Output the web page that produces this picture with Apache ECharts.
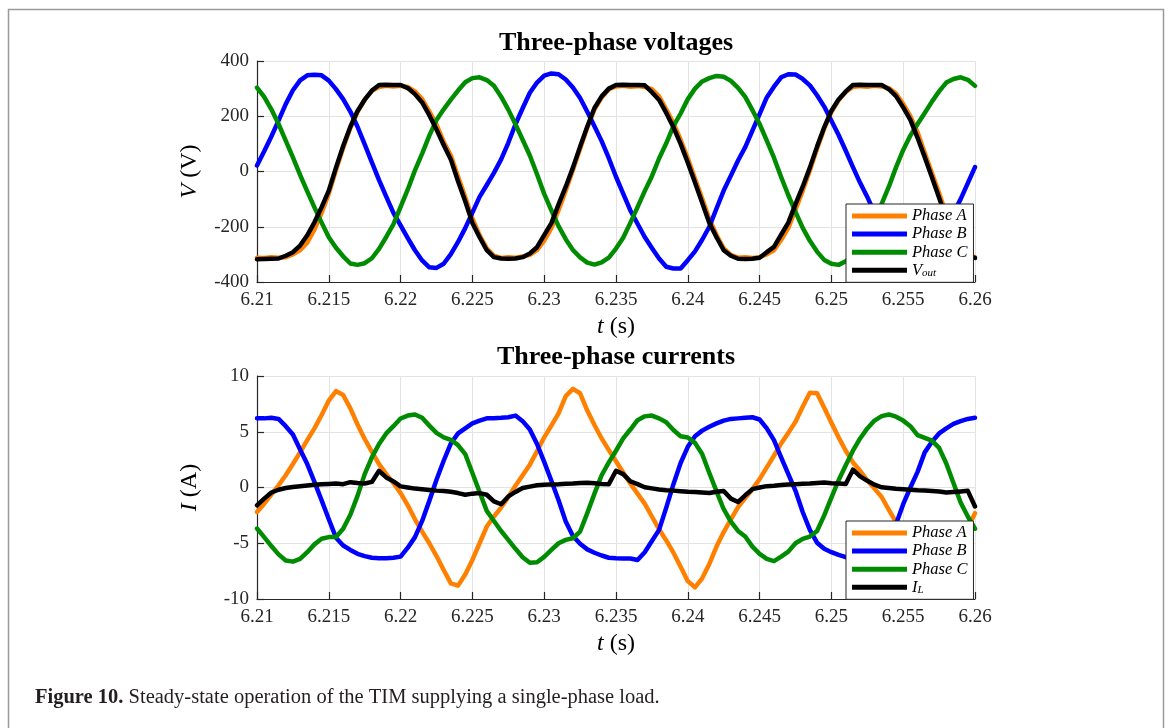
<!DOCTYPE html>
<html>
<head>
<meta charset="utf-8">
<script src="https://cdn.jsdelivr.net/npm/echarts@6/dist/echarts.min.js"></script>
<style>
  html, body { margin: 0; padding: 0; background: #fff; }
  #chart { width: 1170px; height: 728px; }
</style>
</head>
<body>
<div id="chart"></div>
<script>
// Sampling of the simulation window: 6.21 s to 6.26 s, one sample every 0.5 ms
const T_START = 6.21;
const T_STEP = 0.0005;
const N_SAMPLES = 101;

// x-axis ticks
const timeTicks = { min: 6.21, max: 6.26, interval: 0.005 };
const voltTicks = { min: -400, max: 400, interval: 200 };
const ampTicks = { min: -10, max: 10, interval: 5 };

// Phase voltages (V)
const phaseA_V = [-312,-313,-310,-312,-310,-300,-285,-258,-210,-150,
  -80,5,85,158,215,260,292,306,310,308,
  310,306,290,262,218,170,108,58,-18,-92,
  -170,-230,-278,-305,-313,-310,-312,-308,-302,-285,
  -250,-205,-140,-70,5,82,158,225,268,298,
  308,310,307,309,306,298,272,225,175,115,
  48,-25,-98,-172,-230,-278,-302,-312,-310,-313,
  -310,-300,-285,-248,-205,-138,-70,4,82,155,
  215,258,288,306,309,307,310,308,302,282,
  245,200,142,68,-5,-78,-155,-225,-275,-302,
  -310];

const phaseB_V = [22,73,127,184,244,294,330,348,350,348,
  329,298,262,217,162,98,33,-31,-91,-150,
  -195,-241,-285,-322,-347,-349,-334,-299,-255,-205,
  -149,-92,-49,-5,44,104,171,229,285,322,
  347,355,352,333,304,266,216,164,110,48,
  -19,-80,-141,-189,-237,-277,-315,-345,-351,-351,
  -321,-289,-247,-200,-134,-69,-15,40,88,148,
  208,268,307,341,352,351,335,312,276,235,
  184,132,75,16,-41,-92,-150,-205,-255,-300,
  -335,-350,-348,-325,-292,-250,-200,-150,-100,-42,
  16];

const phaseC_V = [304,270,225,172,112,51,-12,-72,-130,-185,
  -238,-276,-307,-333,-338,-332,-314,-280,-237,-191,
  -128,-65,4,65,130,186,225,260,293,323,
  338,341,331,310,271,224,171,115,58,-10,
  -81,-141,-198,-245,-284,-311,-330,-337,-329,-312,
  -279,-240,-186,-129,-71,-17,47,102,164,210,
  262,300,326,338,346,343,328,303,270,222,
  172,112,50,-20,-86,-146,-204,-251,-290,-320,
  -334,-338,-325,-300,-275,-235,-180,-117,-55,15,
  78,130,172,212,253,290,322,335,341,332,
  310];

const vOut = [-318,-317,-316,-315,-305,-292,-268,-231,-184,-129,
  -69,14,92,162,219,260,293,313,314,313,
  313,302,280,250,204,152,96,43,-35,-108,
  -186,-238,-285,-310,-315,-316,-315,-310,-297,-274,
  -230,-187,-119,-55,14,90,163,230,272,300,
  313,314,313,313,312,287,259,212,160,100,
  32,-40,-113,-186,-238,-285,-305,-316,-317,-316,
  -312,-292,-273,-229,-185,-118,-55,14,90,160,
  220,261,290,313,314,313,313,313,298,273,
  232,187,122,52,-21,-95,-170,-235,-280,-305,
  -313];

// Phase currents and load current (A)
const phaseA_I = [-2.2,-1.45,-0.64,0.2,1.1,2.1,3.15,4.25,5.3,6.5,
  7.8,8.65,8.3,7.1,5.65,4.35,3.2,2.1,1.2,0.4,
  -0.5,-1.6,-2.85,-3.95,-5.0,-6.15,-7.4,-8.6,-8.8,-7.8,
  -6.5,-5.0,-3.5,-2.6,-1.8,-0.85,0.15,1.1,2.05,3.25,
  4.5,5.55,6.65,8.2,8.85,8.45,6.9,5.6,4.4,3.35,
  2.35,1.35,0.35,-0.55,-1.45,-2.6,-3.75,-4.75,-5.85,-7.1,
  -8.4,-8.95,-8.15,-6.85,-5.3,-4.0,-2.85,-1.75,-0.95,-0.15,
  0.75,1.8,2.85,3.95,4.9,5.9,7.25,8.5,8.45,7.15,
  5.8,4.5,3.3,2.25,1.5,0.65,-0.1,-0.85,-2.0,-3.1,
  -4.4,-5.6,-6.8,-7.9,-8.8,-8.8,-7.6,-6.3,-5.0,-3.6,
  -2.3];

const phaseB_I = [6.2,6.2,6.25,6.15,5.5,4.75,3.4,2.1,0.5,-1.15,
  -2.85,-4.5,-5.2,-5.6,-5.95,-6.15,-6.3,-6.35,-6.35,-6.3,
  -6.2,-5.4,-4.45,-3.0,-1.2,0.7,2.4,3.95,4.85,5.3,
  5.75,6.0,6.2,6.22,6.25,6.3,6.45,5.95,5.2,3.9,
  2.3,0.6,-1.15,-3.05,-4.35,-5.05,-5.55,-5.85,-6.1,-6.3,
  -6.35,-6.37,-6.37,-6.5,-5.8,-4.8,-3.8,-1.8,0.3,2.2,
  3.65,4.6,5.1,5.45,5.75,6.0,6.15,6.2,6.25,6.3,
  6.1,5.3,4.25,2.7,1.2,-0.3,-2.2,-3.8,-4.95,-5.5,
  -5.8,-6.05,-6.25,-6.35,-6.37,-6.4,-6.45,-6.0,-5.0,-3.3,
  -1.5,0.0,1.4,3.15,4.1,4.85,5.3,5.7,5.95,6.15,
  6.25];

const phaseC_I = [-3.68,-4.45,-5.25,-6.0,-6.55,-6.65,-6.4,-5.8,-5.1,-4.6,
  -4.45,-4.43,-3.7,-2.45,-0.75,1.2,2.7,3.9,4.85,5.5,
  6.19,6.45,6.55,6.25,5.55,4.9,4.5,4.28,3.8,3.0,
  1.3,-0.4,-2.1,-3.0,-3.9,-4.7,-5.5,-6.25,-6.75,-6.7,
  -6.22,-5.6,-5.0,-4.7,-4.55,-3.95,-2.3,-0.55,1.1,2.25,
  3.3,4.4,5.2,6.04,6.38,6.45,6.2,5.85,5.15,4.6,
  4.48,4.0,3.0,1.3,-0.35,-1.95,-3.06,-3.9,-4.4,-5.3,
  -5.95,-6.4,-6.6,-6.2,-5.75,-5.0,-4.6,-4.4,-3.9,-2.5,
  -0.9,0.65,2.0,3.3,4.4,5.3,6.0,6.4,6.55,6.35,
  6.0,5.5,4.7,4.45,4.2,3.55,2.15,0.4,-1.35,-2.6,
  -3.7];

const iLoad = [-1.6,-1.0,-0.45,-0.2,-0.05,0.05,0.12,0.18,0.24,0.3,
  0.32,0.35,0.3,0.48,0.4,0.36,0.5,1.5,0.9,0.55,
  0.1,0.0,-0.1,-0.15,-0.22,-0.28,-0.32,-0.38,-0.5,-0.65,
  -0.55,-0.5,-0.65,-1.25,-1.5,-0.8,-0.4,-0.05,0.08,0.2,
  0.24,0.28,0.3,0.34,0.36,0.4,0.42,0.38,0.32,0.3,
  1.5,1.2,0.55,0.3,0.02,-0.08,-0.18,-0.24,-0.28,-0.33,
  -0.38,-0.4,-0.45,-0.5,-0.38,-0.32,-1.0,-1.3,-0.7,-0.15,
  0.0,0.12,0.16,0.22,0.27,0.3,0.33,0.35,0.4,0.45,
  0.38,0.36,0.32,1.6,1.0,0.6,0.25,0.02,-0.05,-0.12,
  -0.16,-0.2,-0.25,-0.28,-0.32,-0.36,-0.45,-0.4,-0.35,-0.3,
  -1.7];

// Time stamps of the samples
const time = [];
for (let i = 0; i < N_SAMPLES; i++) time.push(+(T_START + i * T_STEP).toFixed(4));
const pairs = arr => arr.map((v, i) => [time[i], v]);

const SERIF = "'Liberation Serif', 'DejaVu Serif', serif";
const AXIS_INK = '#262626';
const GRID_INK = '#e3e3e3';
const COLORS = { A: '#ff8000', B: '#0000ff', C: '#008c00', K: '#000000' };

const tickFormatter = v => String(parseFloat(v.toFixed(3)));

function makeXAxis(gridIndex) {
  return {
    type: 'value', gridIndex,
    min: timeTicks.min, max: timeTicks.max, interval: timeTicks.interval,
    name: '{i|t} (s)', nameLocation: 'middle', nameGap: 33,
    nameTextStyle: { fontFamily: SERIF, fontSize: 24, color: '#000',
      rich: { i: { fontFamily: SERIF, fontSize: 24, fontStyle: 'italic', color: '#000' } } },
    axisLine: { show: true, onZero: false, lineStyle: { color: AXIS_INK, width: 1.2 } },
    axisTick: { show: true, inside: true, length: 7, lineStyle: { color: AXIS_INK, width: 1.2 } },
    axisLabel: { formatter: tickFormatter, fontFamily: SERIF, fontSize: 19, color: AXIS_INK, margin: 9,
      showMinLabel: true, showMaxLabel: true },
    splitLine: { show: true, lineStyle: { color: GRID_INK, width: 1 } }
  };
}

function makeYAxis(gridIndex, ticks, sym, unit) {
  return {
    type: 'value', gridIndex,
    min: ticks.min, max: ticks.max, interval: ticks.interval,
    name: '{i|' + sym + '} (' + unit + ')', nameLocation: 'middle', nameGap: 55,
    nameTextStyle: { fontFamily: SERIF, fontSize: 24, color: '#000',
      rich: { i: { fontFamily: SERIF, fontSize: 24, fontStyle: 'italic', color: '#000' } } },
    axisLine: { show: true, onZero: false, lineStyle: { color: AXIS_INK, width: 1.2 } },
    axisTick: { show: true, inside: true, length: 7, lineStyle: { color: AXIS_INK, width: 1.2 } },
    axisLabel: { fontFamily: SERIF, fontSize: 19, color: AXIS_INK, margin: 8 },
    splitLine: { show: true, lineStyle: { color: GRID_INK, width: 1 } }
  };
}

function makeLine(name, color, arr, idx) {
  return {
    type: 'line', name, data: pairs(arr),
    xAxisIndex: idx, yAxisIndex: idx,
    showSymbol: false, smooth: false, animation: false,
    lineStyle: { color, width: 4.5, cap: 'round', join: 'round' },
    itemStyle: { color },
    emphasis: { disabled: true }
  };
}

const legendRich = {
  v: { fontFamily: SERIF, fontStyle: 'italic', fontSize: 16.5, lineHeight: 16, color: '#000' },
  s: { fontFamily: SERIF, fontStyle: 'italic', fontSize: 11, lineHeight: 16, color: '#000', padding: [6, 0, 0, 0] },
  n: { fontFamily: SERIF, fontStyle: 'italic', fontSize: 16.5, lineHeight: 16, color: '#000' }
};
function legendLabel(name) {
  if (name === 'Vout') return '{v|V}{s|out}';
  if (name === 'IL') return '{v|I}{s|L}';
  return '{n|' + name + '}';
}
function makeLegend(names, top) {
  return {
    data: names, orient: 'vertical', left: 846, top,
    icon: 'rect', itemWidth: 55, itemHeight: 5, itemGap: 1.1,
    padding: [3.5, 6, 3.5, 6],
    backgroundColor: '#ffffff', borderColor: AXIS_INK, borderWidth: 1,
    selectedMode: false, formatter: legendLabel,
    textStyle: { fontFamily: SERIF, fontStyle: 'italic', fontSize: 16.5, lineHeight: 16, color: '#000', rich: legendRich }
  };
}

const chart = echarts.init(document.getElementById('chart'), null, { renderer: 'canvas' });
chart.setOption({
  backgroundColor: '#ffffff',
  animation: false,
  grid: [
    { left: 257, top: 61, width: 718, height: 221, containLabel: false },
    { left: 257, top: 376, width: 718, height: 223, containLabel: false }
  ],
  xAxis: [makeXAxis(0), makeXAxis(1)],
  yAxis: [makeYAxis(0, voltTicks, 'V', 'V'), makeYAxis(1, ampTicks, 'I', 'A')],
  legend: [
    makeLegend(['Phase A', 'Phase B', 'Phase C', 'Vout'], 204),
    makeLegend(['Phase A', 'Phase B', 'Phase C', 'IL'], 521)
  ],
  series: [
    makeLine('Phase A', COLORS.A, phaseA_V, 0),
    makeLine('Phase B', COLORS.B, phaseB_V, 0),
    makeLine('Phase C', COLORS.C, phaseC_V, 0),
    makeLine('Vout', COLORS.K, vOut, 0),
    makeLine('Phase A', COLORS.A, phaseA_I, 1),
    makeLine('Phase B', COLORS.B, phaseB_I, 1),
    makeLine('Phase C', COLORS.C, phaseC_I, 1),
    makeLine('IL', COLORS.K, iLoad, 1)
  ],
  graphic: [
    { type: 'rect', silent: true, z: -1,
      shape: { x: 8.5, y: 9.5, width: 1155, height: 800 },
      style: { fill: 'none', stroke: '#9a9a9a', lineWidth: 1.5 } },
    { type: 'text', silent: true, x: 616, y: 43,
      style: { text: 'Three-phase voltages', fontFamily: SERIF, fontWeight: 'bold', fontSize: 26,
        fill: '#000', textAlign: 'center', textVerticalAlign: 'middle' } },
    { type: 'text', silent: true, x: 616, y: 357,
      style: { text: 'Three-phase currents', fontFamily: SERIF, fontWeight: 'bold', fontSize: 26,
        fill: '#000', textAlign: 'center', textVerticalAlign: 'middle' } },
    { type: 'text', silent: true, x: 35, y: 698,
      style: { text: '{b|Figure 10.} Steady-state operation of the TIM supplying a single-phase load.',
        fontFamily: SERIF, fontSize: 20.5, fill: '#231f20', textAlign: 'left', textVerticalAlign: 'middle',
        rich: { b: { fontFamily: SERIF, fontSize: 20.5, fontWeight: 'bold', fill: '#231f20' } } } }
  ]
});
</script>
</body>
</html>
